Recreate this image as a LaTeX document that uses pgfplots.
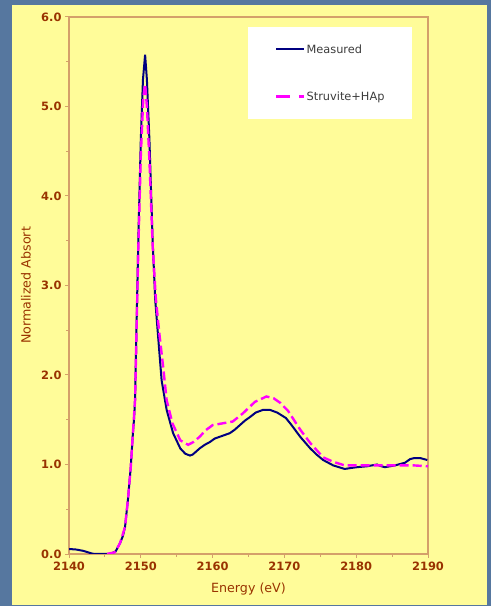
\documentclass[border=0pt]{standalone}
\usepackage{fontspec}
\setmainfont{DejaVu Sans}
\usepackage{pgfplots}
\pgfplotsset{compat=1.18}
\definecolor{bgblue}{HTML}{56779F}
\definecolor{panel}{HTML}{FFFC99}
\definecolor{framec}{HTML}{D4A06A}
\definecolor{tickred}{HTML}{993300}
\definecolor{navyc}{HTML}{000080}
\definecolor{magc}{HTML}{FF00FF}
\definecolor{legtext}{HTML}{3C3C3C}
\begin{document}
\begin{tikzpicture}
\useasboundingbox (0,0) rectangle (491bp,606bp);
\fill[bgblue] (0,0) rectangle (491bp,606bp);
\fill[panel] (12bp,1bp) rectangle (487bp,601bp);
\begin{axis}[
  at={(69bp,52bp)}, anchor=south west, scale only axis,
  width=359bp, height=537bp,
  xmin=2140, xmax=2190, ymin=0, ymax=6,
  xtick={2140,2150,...,2190}, ytick={0,1,...,6},
  minor x tick num=1, minor y tick num=1,
  tick pos=left, tick align=outside,
  major tick length=4bp, minor tick length=3bp,
  axis line style={framec, line width=1.3bp},
  every tick/.style={framec, line width=1bp},
  /pgf/number format/assume math mode=true,
  yticklabel style={/pgf/number format/.cd, fixed, fixed zerofill, precision=1},
  xticklabel style={/pgf/number format/.cd, set thousands separator={}},
  tick label style={font=\bfseries\fontsize{11.5}{13}\selectfont, text=tickred},
  label style={font=\fontsize{12.7}{14}\selectfont, text=tickred},
  xlabel={Energy (eV)},
  ylabel={Normalized Absort},
  xlabel style={at={(axis description cs:0.5,-0.0652)}, anchor=center},
  ylabel style={at={(axis description cs:-0.1198,0.5)}, anchor=center},
  legend style={at={(0.4986,0.981)}, anchor=north west, fill=white, draw=none,
    inner xsep=27bp, inner ysep=16bp, row sep=35bp,
    font=\fontsize{11.4}{13}\selectfont, text=legtext,
    nodes={inner sep=1bp}},
  legend cell align=left,
  legend image code/.code={\draw[#1] (0bp,0bp) -- (28bp,0bp);},
]
\addplot[navyc, line width=2bp] coordinates {
(2140,0.056) (2141,0.05) (2142,0.035) (2143,0.01) (2143.5,0.0) (2145,0.0)
(2145.5,0.0) (2146,0.01) (2146.5,0.03) (2147.1,0.12) (2147.5,0.2) (2147.8,0.3)
(2148.2,0.6) (2148.6,0.97) (2148.9,1.35) (2149.05,1.5) (2149.2,1.72)
(2149.65,3.5) (2150.0,4.63) (2150.3,5.3) (2150.6,5.58) (2150.85,5.3)
(2151.2,4.63) (2151.65,3.5) (2152.0,2.85) (2152.45,2.39) (2152.9,1.94)
(2153.6,1.61) (2154.5,1.35) (2155.5,1.18) (2156.2,1.12) (2156.85,1.10)
(2157.2,1.11) (2157.5,1.13) (2158.2,1.18) (2158.9,1.22) (2159.6,1.25) (2160.3,1.29) (2161.0,1.31)
(2161.7,1.33) (2162.4,1.35) (2163.1,1.39) (2163.8,1.44) (2164.5,1.49) (2165.2,1.53) (2166,1.58)
(2167.0,1.61) (2168,1.61) (2169.0,1.58) (2169.6,1.55) (2170.2,1.52) (2171,1.44)
(2172.2,1.31) (2173.6,1.18) (2174.5,1.11) (2175.4,1.05) (2176.1,1.02) (2176.8,0.99)
(2177.6,0.97) (2178.4,0.95) (2179.2,0.96) (2180.1,0.97) (2181.5,0.98) (2182.2,0.99)
(2182.9,1.0) (2183.5,0.98) (2184.0,0.97) (2184.7,0.98) (2185.4,0.99) (2186.8,1.02)
(2187.5,1.06) (2188,1.07) (2189,1.07) (2189.9,1.05)
};
\addlegendentry{Measured}
\addplot[magc, line width=2.4bp, dash pattern=on 9bp off 4bp,
  legend image post style={dash pattern=on 14bp off 9bp}] coordinates {
(2145.3,0) (2146.4,0.02) (2147.1,0.12) (2147.8,0.3) (2148.2,0.6) (2148.6,0.97)
(2148.9,1.35) (2149.2,1.72) (2149.65,3.4) (2150.0,4.45) (2150.35,5.1)
(2150.6,5.25) (2150.85,5.0) (2151.2,4.4) (2151.65,3.45) (2152.1,2.85)
(2152.6,2.45) (2153.1,2.1) (2153.6,1.72) (2154.4,1.46) (2155.5,1.27)
(2156.6,1.22) (2157.3,1.25) (2158.2,1.31) (2159,1.38) (2160,1.44)
(2161.4,1.46) (2162.8,1.48) (2164.2,1.57) (2165.9,1.70) (2167.5,1.76)
(2168.5,1.74) (2169.4,1.69) (2170.5,1.60) (2172.2,1.39) (2173.6,1.24)
(2175.4,1.08) (2176.8,1.03) (2178.4,0.99) (2180.5,0.99) (2184,0.99)
(2186,0.99) (2188,0.99) (2190,0.98)
};
\addlegendentry{Struvite+HAp}
\end{axis}
\end{tikzpicture}
\end{document}
